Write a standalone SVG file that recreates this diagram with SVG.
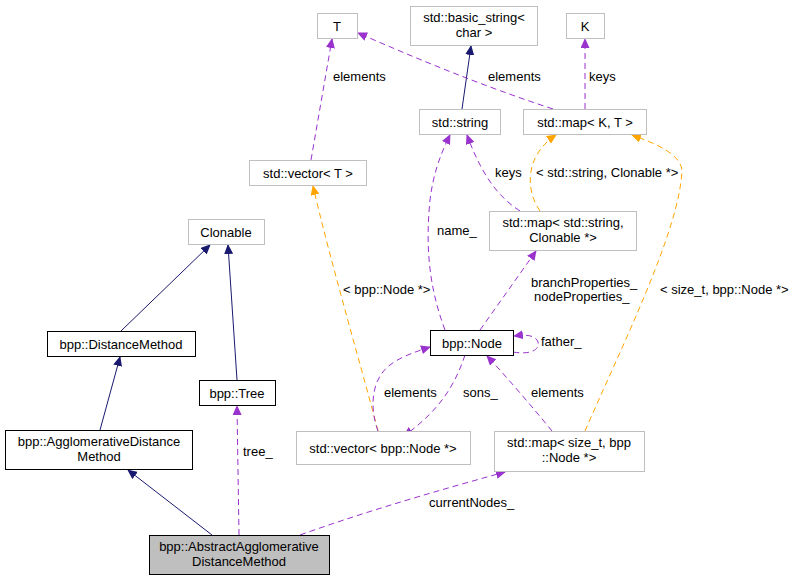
<svg xmlns="http://www.w3.org/2000/svg" width="800" height="581" viewBox="0 0 800 581">
<defs>
<marker id="an" markerWidth="10" markerHeight="9" refX="9" refY="4.5" orient="auto" markerUnits="userSpaceOnUse"><path d="M0,0 L10,4.5 L0,9 Z" fill="#191970"/></marker>
<marker id="ap" markerWidth="10" markerHeight="9" refX="9" refY="4.5" orient="auto" markerUnits="userSpaceOnUse"><path d="M0,0 L10,4.5 L0,9 Z" fill="#9a32cd"/></marker>
<marker id="ao" markerWidth="10" markerHeight="9" refX="9" refY="4.5" orient="auto" markerUnits="userSpaceOnUse"><path d="M0,0 L10,4.5 L0,9 Z" fill="#ffa500"/></marker>
</defs>
<style>
text{font-family:"Liberation Sans",Arial,sans-serif;font-size:13px;fill:#000}
.n rect{fill:#fff;stroke:#bfbfbf;stroke-width:1}
.b rect{stroke:#000}
.g rect{fill:#bfbfbf;stroke:#000}
.c{text-anchor:middle}
.e path{fill:none}
.nv{stroke:#191970;marker-end:url(#an)}
.pu{stroke:#9a32cd;stroke-dasharray:6,4;marker-end:url(#ap)}
.or{stroke:#ffa500;stroke-dasharray:6,4;marker-end:url(#ao)}
</style>
<rect width="800" height="581" fill="#fff"/>
<g id="edges" class="e">
<path class="nv" d="M462,109 L471,46"/>
<path class="pu" d="M553,109 C480,85 420,60 358,33"/>
<path class="pu" d="M585,109 L585,39"/>
<path class="pu" d="M311,160 L332,39"/>
<path class="pu" d="M520,211 C495,195 480,170 467,135"/>
<path class="or" d="M540,211 C525,190 525,155 556,135"/>
<path class="or" d="M585,431 C620,350 680,230 682,170 C680,155 660,145 632,135"/>
<path class="pu" d="M445,330 C430,290 425,250 430,200 C433,175 440,155 450,135"/>
<path class="pu" d="M480,330 L536,251"/>
<path class="or" d="M378,431 C365,380 330,260 313,186"/>
<path class="pu" d="M378,431 C370,410 370,380 390,365 C400,357 415,352 430,347"/>
<path class="pu" d="M465,355 C455,385 440,410 404,436"/>
<path class="pu" d="M552,431 C535,410 505,375 487,356"/>
<path class="pu" d="M513,352 C530,355 540,350 538,342 C536,336 528,334 514,336"/>
<path class="nv" d="M121,331 L210,245"/>
<path class="nv" d="M237,380 L228,245"/>
<path class="nv" d="M100,430 L120,357"/>
<path class="nv" d="M212,535 L128,470"/>
<path class="pu" d="M239,535 L237,406"/>
<path class="pu" d="M300,535 C370,510 440,490 505,472"/>
<text x="333" y="81">elements</text>
<text x="488" y="81">elements</text>
<text x="589" y="81">keys</text>
<text x="495" y="177">keys</text>
<text x="536" y="177">&lt; std::string, Clonable *&gt;</text>
<text x="437" y="235">name_</text>
<text x="531" y="287">branchProperties_</text>
<text x="534" y="301">nodeProperties_</text>
<text x="660" y="294">&lt; size_t, bpp::Node *&gt;</text>
<text x="343" y="294">&lt; bpp::Node *&gt;</text>
<text x="541" y="346">father_</text>
<text x="384" y="397">elements</text>
<text x="463" y="397">sons_</text>
<text x="531" y="397">elements</text>
<text x="243" y="456">tree_</text>
<text x="429" y="507">currentNodes_</text>
</g>
<g id="T" class="n"><rect x="317.5" y="13.5" width="40" height="25"/><text class="c" x="337" y="31">T</text></g>
<g id="basic_string" class="n"><rect x="410.5" y="6.5" width="127" height="39"/><text class="c" x="474" y="22">std::basic_string&lt;</text><text class="c" x="474" y="37">char &gt;</text></g>
<g id="K" class="n"><rect x="566.5" y="13.5" width="38" height="25"/><text class="c" x="585" y="31">K</text></g>
<g id="string" class="n"><rect x="419.5" y="109.5" width="81" height="25"/><text class="c" x="460" y="127">std::string</text></g>
<g id="mapKT" class="n"><rect x="523.5" y="109.5" width="123" height="25"/><text class="c" x="585" y="127">std::map&lt; K, T &gt;</text></g>
<g id="vectorT" class="n"><rect x="249.5" y="160.5" width="117" height="25"/><text class="c" x="308" y="178">std::vector&lt; T &gt;</text></g>
<g id="mapSC" class="n"><rect x="489.5" y="211.5" width="147" height="39"/><text class="c" x="563" y="227">std::map&lt; std::string,</text><text class="c" x="563" y="242">Clonable *&gt;</text></g>
<g id="Clonable" class="n"><rect x="188.5" y="219.5" width="76" height="25"/><text class="c" x="226" y="237">Clonable</text></g>
<g id="DistanceMethod" class="n b"><rect x="47.5" y="331.5" width="148" height="25"/><text class="c" x="121" y="349">bpp::DistanceMethod</text></g>
<g id="Node" class="n b"><rect x="430.5" y="330.5" width="83" height="25"/><text class="c" x="472" y="348">bpp::Node</text></g>
<g id="Tree" class="n b"><rect x="199.5" y="380.5" width="76" height="25"/><text class="c" x="237" y="398">bpp::Tree</text></g>
<g id="AggDM" class="n b"><rect x="5.5" y="430.5" width="187" height="39"/><text class="c" x="99" y="446">bpp::AgglomerativeDistance</text><text class="c" x="99" y="461">Method</text></g>
<g id="vectorNode" class="n"><rect x="296.5" y="431.5" width="174" height="33"/><text class="c" x="383" y="453">std::vector&lt; bpp::Node *&gt;</text></g>
<g id="mapSize" class="n"><rect x="494.5" y="431.5" width="150" height="40"/><text class="c" x="569" y="447">std::map&lt; size_t, bpp</text><text class="c" x="569" y="462">::Node *&gt;</text></g>
<g id="Abstract" class="n g"><rect x="149.5" y="535.5" width="180" height="39"/><text class="c" x="239" y="551">bpp::AbstractAgglomerative</text><text class="c" x="239" y="566">DistanceMethod</text></g>
</svg>
